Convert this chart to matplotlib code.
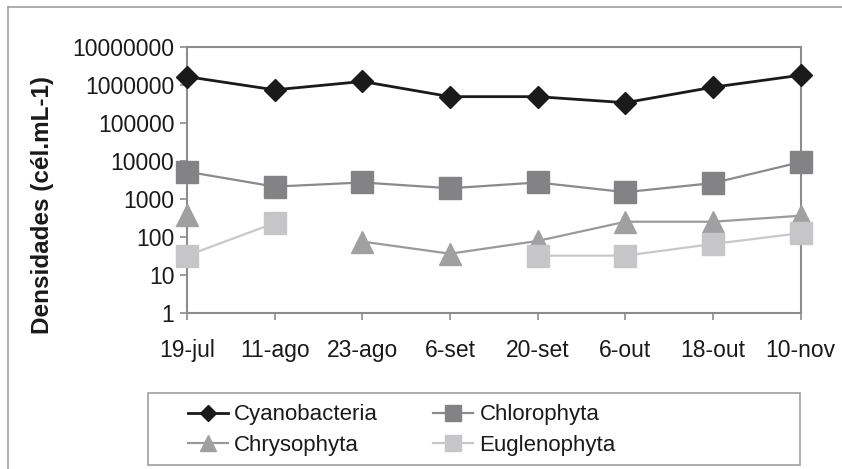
import numpy as np
import matplotlib
matplotlib.use("Agg")
import matplotlib.pyplot as plt
from matplotlib.lines import Line2D
from matplotlib.patches import Rectangle

plt.rcParams['font.family'] = ['Liberation Sans', 'DejaVu Sans']

dates = ["19-jul", "11-ago", "23-ago", "6-set", "20-set", "6-out", "18-out", "10-nov"]
cyanobacteria = [1650000, 740000, 1230000, 490000, 490000, 340000, 870000, 1800000]
chlorophyta = [5200, 2100, 2700, 1900, 2700, 1500, 2600, 9300]
chrysophyta = [380, np.nan, 75, 36, 78, 250, 250, 360]
euglenophyta = [32, 230, np.nan, np.nan, 32, 32, 65, 125]
ytick_values = [1, 10, 100, 1000, 10000, 100000, 1000000, 10000000]

fig = plt.figure(figsize=(8.42, 4.69), dpi=100)
ax = fig.add_axes([0.222, 0.333, 0.729, 0.567])

x = np.arange(len(dates))
ax.plot(x, cyanobacteria, color="#1a1a1a", lw=2, marker="D", ms=11.5,
        mfc="#1a1a1a", mec="#1a1a1a", label="Cyanobacteria", zorder=5, clip_on=False)
ax.plot(x, chlorophyta, color="#8a8a8a", lw=1.6, marker="s", ms=16,
        mfc="#838386", mec="#838386", label="Chlorophyta", zorder=4, clip_on=False)
ax.plot(x, chrysophyta, color="#9a9a9a", lw=1.6, marker="^", ms=16,
        mfc="#a0a0a0", mec="#a0a0a0", label="Chrysophyta", zorder=3, clip_on=False)
ax.plot(x, euglenophyta, color="#c8c8c8", lw=1.6, marker="s", ms=16,
        mfc="#c6c6c8", mec="#c6c6c8", label="Euglenophyta", zorder=4, clip_on=False)

ax.set_yscale("log")
ax.set_ylim(1, 10000000)
ax.set_xlim(0, len(dates) - 1)
ax.set_yticks(ytick_values)
ax.set_yticklabels([str(v) for v in ytick_values])
ax.minorticks_off()
ax.set_xticks(x)
ax.set_xticklabels(dates)

for s in ax.spines.values():
    s.set_color("#8c8c8c")
    s.set_linewidth(1.5)
ax.tick_params(axis="both", colors="#8c8c8c", length=5, width=1.2,
               labelcolor="#1a1a1a", labelsize=16.5)
ax.tick_params(axis="x", pad=14)
ax.tick_params(axis="y", pad=4)

fig.text(0.05, 0.563, "Densidades (cél.mL-1)", rotation=90, ha="center", va="center",
         fontsize=17.5, fontweight="bold", color="#1a1a1a")

# Outer chart border (top and left edges)
fig.add_artist(Line2D([0.0095, 1.0], [0.985, 0.985], color="#a0a0a0", lw=1.2))
fig.add_artist(Line2D([0.0095, 0.0095], [0.0, 0.985], color="#a0a0a0", lw=1.2))

# Legend box
fig.add_artist(Rectangle((0.1758, 0.0085), 0.774, 0.1535, transform=fig.transFigure,
                         fill=False, edgecolor="#a0a0a0", lw=1.2))

h, l = ax.get_legend_handles_labels()
order = [0, 2, 1, 3]
leg = fig.legend([h[i] for i in order], [l[i] for i in order], ncol=2,
                 loc="upper left", bbox_to_anchor=(0.2233, 0.138),
                 fontsize=16, frameon=False, borderpad=0, borderaxespad=0,
                 handlelength=1.8, handletextpad=0.27, labelspacing=0.42,
                 columnspacing=2.5)
for t in leg.get_texts():
    t.set_color("#1a1a1a")
for lh in leg.legend_handles:
    lh.set_markersize(lh.get_markersize() * 0.75)

fig.savefig("out.png", dpi=100)
